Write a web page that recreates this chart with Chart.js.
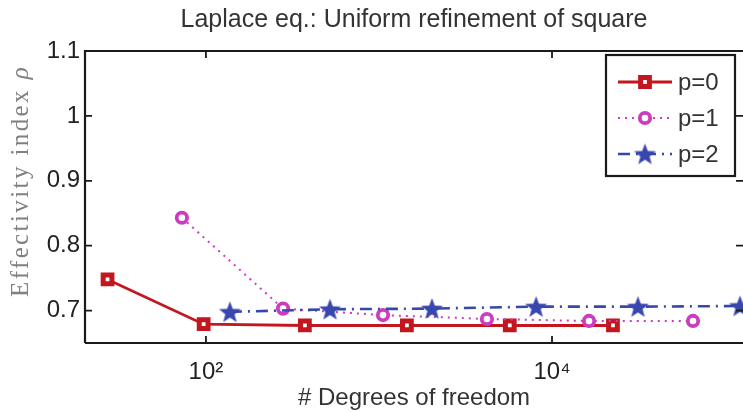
<!DOCTYPE html>
<html>
<head>
<meta charset="utf-8">
<script src="https://cdn.jsdelivr.net/npm/chart.js@4/dist/chart.umd.min.js"></script>
<style>
  html, body { margin: 0; padding: 0; background: #fff; overflow: hidden; }
  #wrap { width: 743px; height: 412px; }
</style>
</head>
<body>
<div id="wrap"><canvas id="c" width="743" height="412"></canvas></div>
<script>
// ---- data ----
const seriesLabels = ['p=0', 'p=1', 'p=2'];
const p0Dofs = [27, 97, 373, 1450, 5700, 22500];
const p0Rho  = [0.748, 0.679, 0.677, 0.677, 0.677, 0.677];
const p1Dofs = [72.6, 279, 1055, 4206, 16370, 65300];
const p1Rho  = [0.843, 0.703, 0.693, 0.687, 0.684, 0.684];
const p2Dofs = [137.6, 521, 2024, 8090, 31400, 122000];
const p2Rho  = [0.698, 0.702, 0.703, 0.706, 0.706, 0.707];
const xTickValues = [100, 10000];
const xTickLabels = ['10²', '10⁴'];
const yTickValues = [0.7, 0.8, 0.9, 1.0, 1.1];
const titleText = 'Laplace eq.: Uniform refinement of square';
const xTitle = '# Degrees of freedom';
const yTitleMain = 'Effectivity index ';
const yTitleSym = 'ρ';

const RED = '#c4161f', MAG = '#cc3cbf', BLUE = '#3747ad';

function makeStar(color, R) {
  const s = Math.ceil(2 * R + 2);
  const c = document.createElement('canvas');
  c.width = s; c.height = s;
  const g = c.getContext('2d');
  g.fillStyle = color;
  g.beginPath();
  for (let i = 0; i < 10; i++) {
    const r = (i % 2) ? R * 0.42 : R;
    const a = -Math.PI / 2 + i * Math.PI / 5;
    g.lineTo(s / 2 + r * Math.cos(a), s / 2 + r * Math.sin(a) + R * 0.08);
  }
  g.closePath();
  g.fill();
  return c;
}
const starImg = makeStar(BLUE, 11.5);

const pts = (xs, ys) => xs.map((x, i) => ({ x: x, y: ys[i] }));

const datasets = [
  { label: seriesLabels[0], data: pts(p0Dofs, p0Rho), borderColor: RED, backgroundColor: '#fff',
    borderWidth: 2.8, pointStyle: 'rect', pointRadius: 6.2, pointBorderWidth: 5,
    pointBackgroundColor: '#fff', pointBorderColor: RED, clip: false, order: 3 },
  { label: seriesLabels[1], data: pts(p1Dofs, p1Rho), borderColor: MAG, backgroundColor: '#fff',
    borderWidth: 2, borderDash: [2, 5], pointStyle: 'circle', pointRadius: 5.2, pointBorderWidth: 3.8,
    pointBackgroundColor: '#fff', pointBorderColor: MAG, clip: false, order: 2 },
  { label: seriesLabels[2], data: pts(p2Dofs, p2Rho), borderColor: BLUE, backgroundColor: BLUE,
    borderWidth: 2.6, borderDash: [12, 6, 2, 6], pointStyle: starImg, pointRadius: 11,
    pointBorderWidth: 0, clip: false, order: 1 }
];
datasets.forEach(d => { d.fill = false; d.tension = 0; d.pointHoverRadius = d.pointRadius; });

const boxPlugin = {
  id: 'boxPlugin',
  afterDraw(chart) {
    const { ctx, chartArea: a, scales } = chart;
    const xs = scales.x, ys = scales.y;
    ctx.save();
    ctx.strokeStyle = '#1a1a1a';
    ctx.lineWidth = 2.2;
    ctx.beginPath();
    ctx.moveTo(a.left, a.bottom); ctx.lineTo(a.right + 2, a.bottom);
    ctx.moveTo(a.left, a.bottom); ctx.lineTo(a.left, a.top);
    ctx.lineTo(a.right + 2, a.top);
    ctx.stroke();
    ctx.lineWidth = 1.8;
    ctx.beginPath();
    xTickValues.forEach(v => {
      const px = xs.getPixelForValue(v);
      ctx.moveTo(px, a.bottom); ctx.lineTo(px, a.bottom - 7);
      ctx.moveTo(px, a.top); ctx.lineTo(px, a.top + 7);
    });
    yTickValues.forEach(v => {
      const py = ys.getPixelForValue(v);
      ctx.moveTo(a.left, py); ctx.lineTo(a.left + 7, py);
      ctx.moveTo(a.right, py); ctx.lineTo(a.right - 7, py);
    });
    ctx.stroke();

    // y-axis title (upright text + italic symbol)
    ctx.save();
    ctx.fillStyle = '#808080';
    ctx.textBaseline = 'middle';
    ctx.textAlign = 'left';
    const fMain = '25px "Liberation Serif", "Times New Roman", serif';
    const fSym = 'italic 25px "Liberation Serif", "Times New Roman", serif';
    try { ctx.letterSpacing = '2.4px'; } catch (e) {}
    ctx.font = fMain; const w1 = ctx.measureText(yTitleMain).width;
    ctx.font = fSym; const w2 = ctx.measureText(yTitleSym).width;
    ctx.translate(21, a.top + 130);
    ctx.rotate(-Math.PI / 2);
    const sx = -(w1 + w2) / 2;
    ctx.font = fMain; ctx.fillText(yTitleMain, sx, 0);
    ctx.font = fSym; ctx.fillText(yTitleSym, sx + w1, 0);
    ctx.restore();

    // legend
    const L = { right: a.right - 8, top: a.top + 4, w: 129, h: 121 };
    const lx = L.right - L.w;
    ctx.fillStyle = '#fff';
    ctx.fillRect(lx, L.top, L.w, L.h);
    ctx.lineWidth = 2.2;
    ctx.strokeStyle = '#1a1a1a';
    ctx.strokeRect(lx, L.top, L.w, L.h);
    chart.data.datasets.forEach((d, i) => {
      const y = L.top + 27 + i * 36;
      ctx.save();
      ctx.strokeStyle = d.borderColor;
      ctx.lineWidth = d.borderWidth;
      ctx.setLineDash(d.borderDash || []);
      ctx.beginPath();
      ctx.moveTo(lx + 12, y); ctx.lineTo(lx + 66, y);
      ctx.stroke();
      ctx.setLineDash([]);
      ctx.fillStyle = d.pointBackgroundColor || d.backgroundColor;
      ctx.strokeStyle = d.pointBorderColor || d.borderColor;
      ctx.lineWidth = d.pointBorderWidth;
      Chart.helpers.drawPoint(ctx, {
        pointStyle: d.pointStyle, radius: d.pointRadius, rotation: 0, borderWidth: d.pointBorderWidth
      }, lx + 39, y);
      ctx.restore();
      ctx.fillStyle = '#333';
      ctx.font = '24px "Liberation Sans", Arial, sans-serif';
      ctx.textBaseline = 'middle';
      ctx.textAlign = 'left';
      ctx.fillText(d.label, lx + 72, y + 1);
    });
    ctx.restore();
  }
};

new Chart(document.getElementById('c'), {
  type: 'line',
  data: { datasets: datasets },
  plugins: [boxPlugin],
  options: {
    responsive: false,
    devicePixelRatio: 1,
    animation: false,
    layout: { autoPadding: false, padding: { left: 0, right: 0, top: 0, bottom: 0 } },
    plugins: {
      legend: { display: false },
      tooltip: { enabled: false },
      title: {
        display: true, text: titleText, fullSize: false, color: '#333',
        font: { family: '"Liberation Sans", Arial, sans-serif', size: 25, weight: 'normal', lineHeight: 1.2 },
        padding: { top: 5, bottom: 16 }
      }
    },
    scales: {
      x: {
        type: 'logarithmic', min: 20, max: 127000,
        grid: { display: false, drawTicks: false },
        border: { display: false },
        afterBuildTicks(s) { s.ticks = xTickValues.map(v => ({ value: v, major: true })); },
        afterFit(s) { s.height = 69; },
        ticks: {
          autoSkip: false, maxRotation: 0, padding: 15, color: '#222',
          font: { family: '"Liberation Sans", Arial, sans-serif', size: 24 },
          callback: (v) => { const i = xTickValues.indexOf(v); return i >= 0 ? xTickLabels[i] : ''; }
        },
        title: {
          display: true, text: xTitle, color: '#333',
          font: { family: '"Liberation Sans", Arial, sans-serif', size: 24 },
          padding: { top: 0, bottom: -1 }
        }
      },
      y: {
        type: 'linear', min: 0.65, max: 1.1,
        grid: { display: false, drawTicks: false },
        border: { display: false },
        afterBuildTicks(s) { s.ticks = yTickValues.map(v => ({ value: v })); },
        afterFit(s) { s.width = 85; },
        ticks: {
          autoSkip: false, padding: 5, color: '#222',
          font: { family: '"Liberation Sans", Arial, sans-serif', size: 24 },
          callback: (v) => String(Number(v.toFixed(1)))
        },
        title: { display: false }
      }
    }
  }
});
</script>
</body>
</html>
